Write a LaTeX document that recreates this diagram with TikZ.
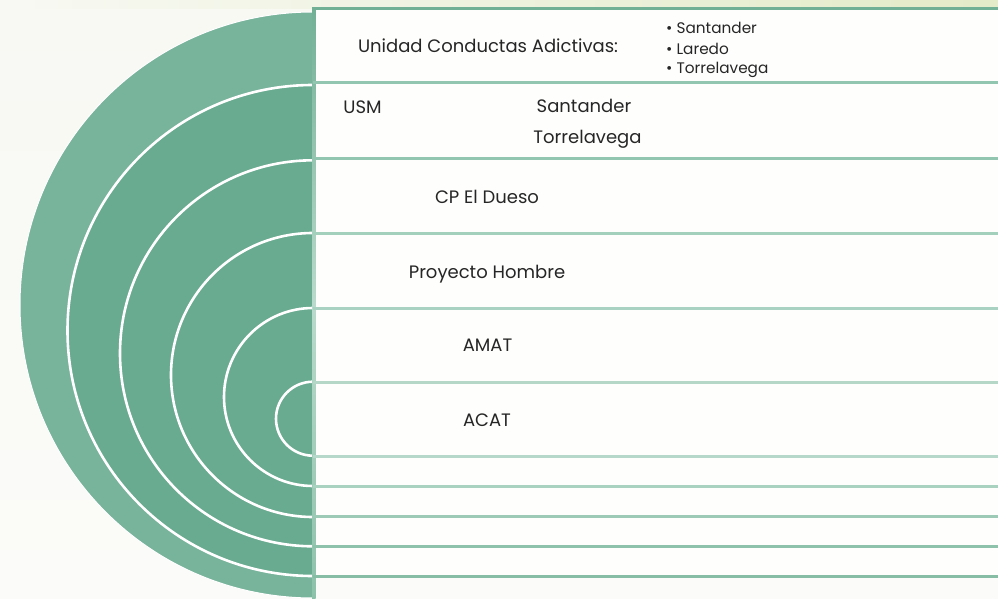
\documentclass[tikz,border=0pt]{standalone}
\usepackage{fontspec}
\setmainfont{Poppins}
\definecolor{bgA}{RGB}{248,249,243}
\definecolor{bgW}{RGB}{251,251,249}
\definecolor{bgB}{RGB}{227,235,200}
\definecolor{cell}{RGB}{254,254,252}
\definecolor{outerG}{RGB}{120,179,155}
\definecolor{innerG}{RGB}{105,171,144}
\definecolor{topL}{RGB}{114,176,150}
\definecolor{vMid}{RGB}{185,218,204}
\definecolor{vBot}{RGB}{140,193,170}
\definecolor{lA}{RGB}{147,198,177}
\definecolor{lB}{RGB}{163,207,189}
\definecolor{lC}{RGB}{170,210,194}
\definecolor{lD}{RGB}{180,215,200}
\definecolor{lE}{RGB}{181,216,202}
\definecolor{lF}{RGB}{169,210,193}
\definecolor{lG}{RGB}{156,202,182}
\definecolor{lH}{RGB}{142,194,171}
\definecolor{lI}{RGB}{134,189,164}
\definecolor{txt}{RGB}{38,38,38}
\tikzset{
  lbl/.style={anchor=base, text=txt, inner sep=0pt, font=\fontsize{18}{20}\selectfont},
  blt/.style={anchor=base west, text=txt, inner sep=0pt, font=\fontsize{15.3}{17}\selectfont},
  ring/.style={draw=white, line width=2.6pt},
  rowline/.style={line width=3pt}
}
\begin{document}
\begin{tikzpicture}[x=1pt,y=-1pt]
\useasboundingbox (0,0) rectangle (998,599);
% background
\shade[top color=bgA, bottom color=bgW] (0,0) rectangle (998,599);
\shade[left color=bgA, right color=bgB] (0,0) rectangle (998,9);
% cells
\fill[cell] (313,8) rectangle (998,576);
% rings
\begin{scope}
\clip (0,0) rectangle (313,599);
\fill[outerG] (313,305) circle[radius=293];
\draw[white, line width=1pt] (313,305) circle[radius=293];
\fill[innerG] (313,330.5) circle[radius=245.5];
\draw[ring] (313,330.5) circle[radius=245.5];
\draw[ring] (313,353.3) circle[radius=193];
\draw[ring] (313,375) circle[radius=142];
\draw[ring] (313,397) circle[radius=89];
\draw[ring] (313,418.7) circle[radius=37];
\end{scope}
% vertical border
\shade[top color=topL, bottom color=vBot, middle color=vMid] (312,8) rectangle (315.5,599);
% row lines
\draw[rowline, topL] (313,9) -- (998,9);
\draw[rowline, lA] (313,83) -- (998,83);
\draw[rowline, lA] (313,158) -- (998,158);
\draw[rowline, lB] (313,233) -- (998,233);
\draw[rowline, lC] (313,308) -- (998,308);
\draw[rowline, lD] (313,382) -- (998,382);
\draw[rowline, lE] (313,456) -- (998,456);
\draw[rowline, lF] (313,486) -- (998,486);
\draw[rowline, lG] (313,516) -- (998,516);
\draw[rowline, lH] (313,546) -- (998,546);
\draw[rowline, lI] (313,576) -- (998,576);
% texts
\node[lbl] (uca) at (488,53) {Unidad Conductas Adictivas:};
\node[blt] (b1) at (666,33.3) {• Santander};
\node[blt] (b2) at (666,54.3) {• Laredo};
\node[blt] (b3) at (666,74) {• Torrelavega};
\node[lbl] (usm) at (362.5,113.3) {USM};
\node[lbl] (san) at (584,113) {Santander};
\node[lbl] (tor) at (587.5,143.5) {Torrelavega};
\node[lbl] (cp) at (487,203) {CP El Dueso};
\node[lbl] (ph) at (487,278) {Proyecto Hombre};
\node[lbl] (amat) at (487.5,351.7) {AMAT};
\node[lbl] (acat) at (487,426.5) {ACAT};
\end{tikzpicture}
\end{document}
